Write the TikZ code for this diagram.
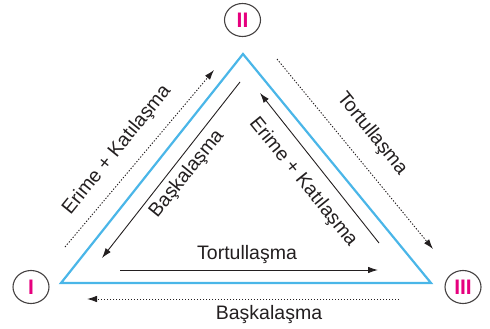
\documentclass[tikz,border=0pt]{standalone}
\usepackage{fontspec}
\setmainfont{Liberation Sans}
\usetikzlibrary{arrows.meta,shapes.geometric}
\definecolor{triblue}{RGB}{74,182,232}
\definecolor{numpink}{RGB}{230,0,126}
\definecolor{txt}{RGB}{35,31,32}
\tikzset{
  numcircle/.style={draw=txt!85, line width=1.1pt, ellipse, minimum width=36pt, minimum height=33pt, inner sep=0pt, text=numpink, font=\fontsize{21}{21}\selectfont\bfseries},
  tri/.style={draw=triblue, line width=2.2pt, line join=miter},
  solidarr/.style={draw=txt, line width=0.9pt, -{Latex[length=10pt,width=6.5pt]}},
  dotarr/.style={draw=txt, line width=0.9pt, dash pattern=on 1.3pt off 1.7pt, -{Latex[length=10pt,width=6.5pt]}},
  lbl/.style={text=txt, font=\fontsize{19.5}{20}\selectfont, inner sep=0pt}
}
\begin{document}
\begin{tikzpicture}[x=1pt,y=-1pt]
\useasboundingbox (0,0) rectangle (490,329);
% vertices
\coordinate (A) at (61,283);
\coordinate (B) at (243,54);
\coordinate (C) at (431,283);
\draw[tri] (A) -- (B) -- (C) -- cycle;
% numbered circles
\node[numcircle] (n2) at (242.5,20) {II};
\node[numcircle] (n1) at (31,287) {I};
\node[numcircle] (n3) at (463,287) {III};
% arrow end points
\coordinate (lo1) at (65,247);   \coordinate (lo2) at (214,70);
\coordinate (li1) at (240,82);   \coordinate (li2) at (102,258);
\coordinate (ri1) at (379,243);  \coordinate (ri2) at (260,93);
\coordinate (ro1) at (277,59);   \coordinate (ro2) at (433,249);
\coordinate (bi1) at (120,270);  \coordinate (bi2) at (378,270);
\coordinate (bo1) at (399,299);  \coordinate (bo2) at (87,299);
\draw[dotarr] (lo1) -- (lo2);
\draw[solidarr] (li1) -- (li2);
\draw[solidarr] (ri1) -- (ri2);
\draw[dotarr] (ro1) -- (ro2);
\draw[solidarr] (bi1) -- (bi2);
\draw[dotarr] (bo1) -- (bo2);
% labels
\node[lbl, rotate=51] (t1) at (117,150) {Erime + Katılaşma};
\node[lbl, rotate=51] (t2) at (187,174) {Başkalaşma};
\node[lbl, rotate=-51] (t3) at (303,182) {Erime + Katılaşma};
\node[lbl, rotate=-51] (t4) at (372,134) {Tortullaşma};
\node[lbl] (t5) at (247,254) {Tortullaşma};
\node[lbl] (t6) at (269,314) {Başkalaşma};
\end{tikzpicture}
\end{document}
